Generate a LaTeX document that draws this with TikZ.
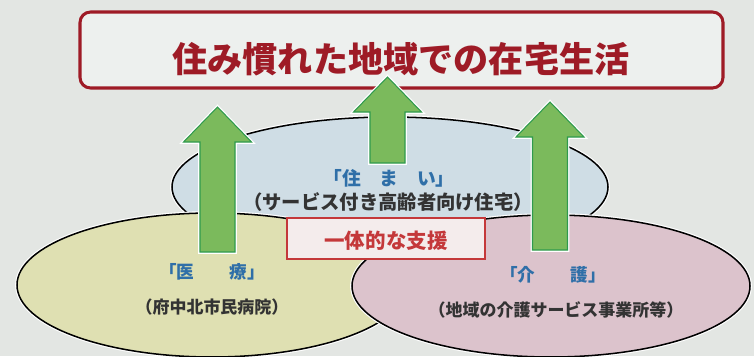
\documentclass[tikz,border=0pt]{standalone}
\usepackage{fontspec}
\newfontfamily\jpfont{Noto Sans CJK JP}
\usetikzlibrary{positioning}

\definecolor{bgcol}{HTML}{E3E6E3}
\definecolor{titlered}{HTML}{9E1B26}
\definecolor{titlefill}{HTML}{EDF0EE}
\definecolor{homefill}{HTML}{CFDDE5}
\definecolor{medfill}{HTML}{DFE0B2}
\definecolor{carefill}{HTML}{DCC3CC}
\definecolor{arrowgreen}{HTML}{7BBA5C}
\definecolor{arrowedge}{HTML}{2F9A4E}
\definecolor{supportred}{HTML}{C4383A}
\definecolor{supportfill}{HTML}{F4ECEC}
\definecolor{labelblue}{HTML}{2F6FA8}
\definecolor{subgray}{HTML}{333333}

% block arrow: centre x, bottom y, tip y
\newcommand{\greenarrow}[3]{%
  \draw[blockarrow] (#1-17.5,#2) -- (#1-17.5,#3+35) -- (#1-34,#3+35) -- (#1,#3)
    -- (#1+34,#3+35) -- (#1+17.5,#3+35) -- (#1+17.5,#2) -- cycle;}

\begin{document}
\begin{tikzpicture}[x=0.03cm,y=-0.03cm,
    area/.style={draw=black, line width=1.3pt, preaction={draw=white, line width=3.2pt}},
    blockarrow/.style={fill=arrowgreen, draw=arrowedge, line width=0.9pt,
      preaction={draw=white, line width=3pt}},
    areatitle/.style={font=\jpfont\bfseries\fontsize{15}{15}\selectfont, text=labelblue},
    areasub/.style={font=\jpfont\bfseries\fontsize{14.5}{15}\selectfont, text=subgray}]
    % Background
    \fill[bgcol] (0,0) rectangle (754,356);
    \useasboundingbox (0,0) rectangle (754,356);

    % Title
    \draw[titlered, line width=2.6pt, fill=titlefill, rounded corners=9pt] (80,12) rectangle (723,88);
    \node[text=titlered, font=\jpfont\bfseries\fontsize{30}{30}\selectfont] (title) at (401,59) {住み慣れた地域での在宅生活};

    % Three areas
    \draw[area, fill=homefill] (390,187) ellipse (218 and 70);
    \draw[area, fill=medfill] (212,285) ellipse (195 and 72);
    \draw[area, fill=carefill] (551,286) ellipse (199 and 71);

    % Support box
    \draw[supportred, line width=1.4pt, fill=supportfill] (287,218) rectangle (485,259);
    \node[text=supportred, font=\jpfont\bfseries\fontsize{17.5}{18}\selectfont] (support) at (386,241) {一体的な支援};

    % Labels
    \node[areatitle, font=\jpfont\bfseries\fontsize{16}{16}\selectfont] (home) at (389,178) {「住　ま　い」};
    \node[areasub, font=\jpfont\bfseries\fontsize{16.5}{17}\selectfont] (homesub) at (388,202) {（サービス付き高齢者向け住宅）};
    \node[areatitle] (med) at (212,272) {「医　　療」};
    \node[areasub] (medsub) at (212,307) {（府中北市民病院）};
    \node[areatitle] (care) at (553,275) {「介　　護」};
    \node[areasub] (caresub) at (556,310) {（地域の介護サービス事業所等）};

    % Arrows
    \greenarrow{217.5}{252}{107}
    \greenarrow{387.5}{163}{77}
    \greenarrow{550}{250}{102}
\end{tikzpicture}
\end{document}
